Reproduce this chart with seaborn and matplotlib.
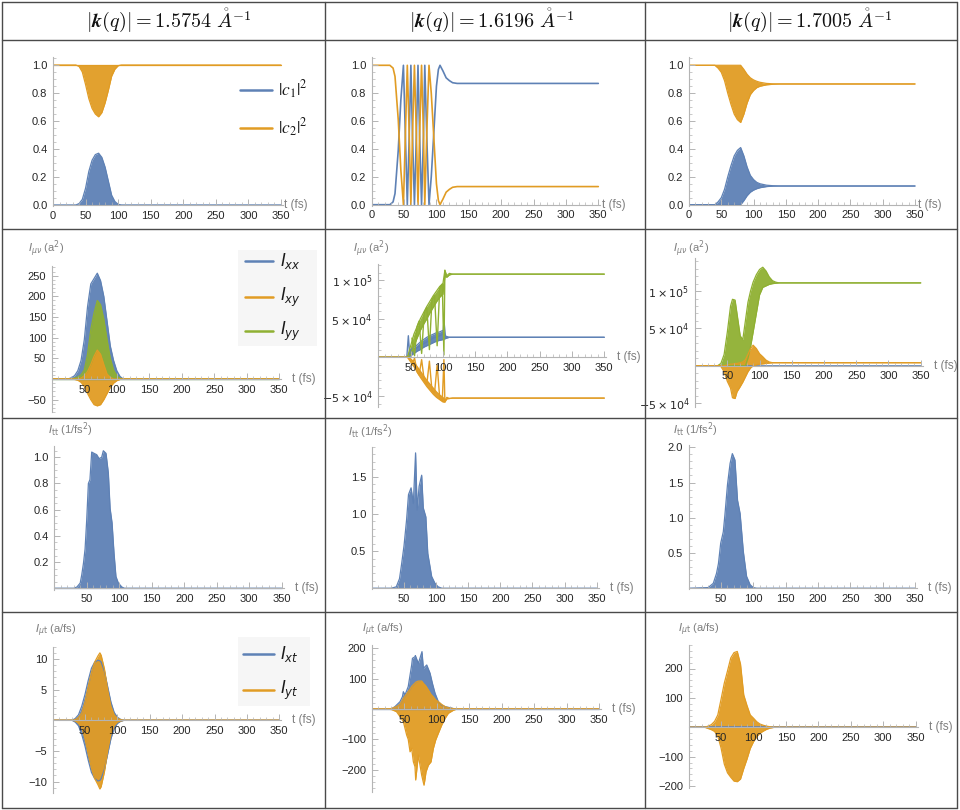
"""
Two-level populations and transition intensities for three |k(q)| values.
4 x 3 table of Mathematica-style panels, redrawn with seaborn/matplotlib.
"""

import numpy as np
import matplotlib
matplotlib.use("Agg")
import matplotlib.pyplot as plt
from matplotlib.lines import Line2D
from matplotlib.patches import Rectangle
from matplotlib.ticker import FixedLocator, FixedFormatter, MultipleLocator
import seaborn as sns

# ─────────────────────────────────────────────
# DATA (t in fs)
# ─────────────────────────────────────────────
K_VALUES = ["1.5754", "1.6196", "1.7005"]

# row 1 : |c1|^2 , |c2|^2
T00   = [0, 35, 40, 45, 50, 55, 60, 65, 70, 75, 80, 85, 90, 95, 100, 105, 350]
C1_00 = [0, 0, 0.01, 0.04, 0.12, 0.24, 0.32, 0.36, 0.37, 0.34, 0.27, 0.17, 0.07, 0.025, 0.005, 0, 0]
C2_00 = [1, 1, 0.99, 0.95, 0.86, 0.76, 0.69, 0.65, 0.63, 0.66, 0.73, 0.82, 0.92, 0.97, 0.995, 1, 1]

T01   = [0, 28, 33, 36, 41, 45, 49, 52, 55, 58, 60.5, 63, 66, 69, 71.5, 74, 77, 80, 82, 85, 88.5,
         92, 95, 100, 103, 105.5, 110, 115, 120, 125, 132, 350]
C1_01 = [0, 0, 0.02, 0.08, 0.39, 0.75, 1.0, 0.5, 0.0, 0.5, 1.0, 0.5, 0.0, 0.5, 1.0, 0.5, 0.0, 0.5, 1.0, 0.5, 0.0,
         0.2, 0.44, 0.85, 0.97, 1.0, 0.96, 0.91, 0.89, 0.875, 0.87, 0.87]
C2_01 = [1, 1, 0.98, 0.92, 0.61, 0.25, 0.0, 0.5, 1.0, 0.5, 0.0, 0.5, 1.0, 0.5, 0.0, 0.5, 1.0, 0.5, 0.0, 0.5, 1.0,
         0.8, 0.56, 0.15, 0.03, 0.0, 0.04, 0.09, 0.11, 0.125, 0.13, 0.13]

T02      = [0, 40, 45, 50, 55, 60, 65, 70, 75, 80, 85, 90, 95, 100, 105, 110, 120, 130, 140, 350]
C1_02_HI = [0, 0, 0.02, 0.05, 0.11, 0.2, 0.28, 0.35, 0.39, 0.41, 0.35, 0.27, 0.21, 0.18, 0.16, 0.15, 0.14, 0.136, 0.134, 0.134]
C1_02_LO = [0, 0, 0, 0, 0, 0, 0, 0, 0, 0, 0.03, 0.065, 0.09, 0.105, 0.115, 0.122, 0.13, 0.133, 0.134, 0.134]
C2_02_HI = [1, 1, 1, 1, 1, 1, 1, 1, 1, 1, 0.97, 0.935, 0.91, 0.895, 0.885, 0.878, 0.87, 0.867, 0.866, 0.866]
C2_02_LO = [1, 1, 0.98, 0.95, 0.89, 0.8, 0.72, 0.65, 0.61, 0.59, 0.65, 0.73, 0.79, 0.82, 0.84, 0.85, 0.86, 0.864, 0.866, 0.866]

# row 2 : I_xx, I_xy, I_yy  (a^2)
T10      = [0, 25, 30, 35, 40, 45, 50, 55, 60, 65, 70, 75, 80, 85, 90, 95, 100, 105, 110, 350]
XX_10    = [0, 0, 3, 8, 20, 45, 95, 175, 230, 243, 256, 238, 200, 140, 80, 45, 20, 6, 0, 0]
YY_10    = [0, 0, 0, 2, 5, 10, 22, 60, 120, 160, 190, 180, 145, 95, 50, 22, 8, 2, 0, 0]
XY_10_HI = [0, 0, 0, 0, 0, 2, 8, 18, 35, 55, 70, 60, 35, 12, 4, 0, 0, 0, 0, 0]
XY_10_LO = [0, 0, 0, -1, -3, -8, -18, -35, -50, -62, -65, -62, -50, -35, -20, -10, -4, -1, 0, 0]

T11      = [0, 45, 50, 55, 60, 65, 70, 75, 80, 85, 90, 95, 100, 103, 106, 110, 115, 350]
XX_11_HI = [0, 0, 1.0e4, 1.3e4, 1.6e4, 2.0e4, 2.3e4, 2.6e4, 2.8e4, 3.0e4, 3.2e4, 3.3e4, 3.5e4, 2.8e4, 2.7e4, 2.6e4, 2.6e4, 2.6e4]
XX_11_LO = [0, 0, 0.2e4, 0.5e4, 0.8e4, 1.0e4, 1.3e4, 1.5e4, 1.7e4, 1.9e4, 2.1e4, 2.2e4, 2.3e4, 2.4e4, 2.5e4, 2.6e4, 2.6e4, 2.6e4]
YY_11_HI = [0, 0, 1.5e4, 3.0e4, 4.0e4, 5.0e4, 5.8e4, 6.6e4, 7.3e4, 8.0e4, 8.6e4, 9.2e4, 9.6e4, 1.13e5, 1.06e5, 1.09e5, 1.08e5, 1.08e5]
YY_11_LO = [0, 0, 0.3e4, 1.5e4, 2.5e4, 3.5e4, 4.3e4, 5.0e4, 5.8e4, 6.5e4, 7.2e4, 7.8e4, 8.2e4, 1.05e5, 1.04e5, 1.07e5, 1.08e5, 1.08e5]
XY_11_HI = [0, 0, -0.2e4, -0.6e4, -1.2e4, -1.8e4, -2.4e4, -3.0e4, -3.5e4, -4.0e4, -4.5e4, -4.9e4, -5.2e4, -5.6e4, -5.2e4, -5.35e4, -5.3e4, -5.3e4]
XY_11_LO = [0, 0, -0.6e4, -1.2e4, -1.9e4, -2.6e4, -3.2e4, -3.8e4, -4.3e4, -4.8e4, -5.2e4, -5.5e4, -5.8e4, -5.8e4, -5.4e4, -5.35e4, -5.3e4, -5.3e4]
# spikes / dips that stick out of the dense bands
TS_11    = [44, 46.4, 48.5, 55, 65, 75, 85, 95, 100, 101.6, 104]
XX_11_SP = [0, 2.8e4, 0.3e4, 1.0e4, 1.5e4, 2.0e4, 2.5e4, 2.8e4, 3.0e4, 4.7e4, 2.6e4]
TD_11    = [52, 56, 60, 63, 67, 71, 75, 79, 83, 87, 91, 95, 99, 101.5, 103]
YY_11_DP = [2.5e4, 0.2e4, 4.0e4, 4.7e4, 0.5e4, 5.8e4, 6.5e4, 1.0e4, 7.5e4, 8.0e4, 1.5e4, 9.0e4, 9.5e4, 0.3e4, 1.13e5]
XY_11_DP = [-1.0e4, -0.1e4, -1.9e4, -2.3e4, -0.3e4, -3.0e4, -3.5e4, -0.5e4, -4.3e4, -4.6e4, -1.0e4, -5.3e4, -5.6e4, -0.3e4, -5.8e4]

T12      = [0, 35, 40, 45, 50, 55, 58, 62, 65, 70, 74, 78, 82, 86, 90, 95, 100, 105, 110, 115, 120, 125, 130, 350]
YY_12_HI = [0, 0, 0.3e4, 1.5e4, 4.5e4, 8.0e4, 8.9e4, 8.8e4, 7.0e4, 4.0e4, 3.5e4, 6.0e4, 8.5e4, 1.0e5,
            1.12e5, 1.22e5, 1.29e5, 1.32e5, 1.27e5, 1.19e5, 1.14e5, 1.12e5, 1.11e5, 1.11e5]
YY_12_LO = [0, 0, 0, 0, 0, 0, 0, 0, 0, 0, 0, 0, 1.0e4, 2.5e4,
            4.5e4, 7.0e4, 9.5e4, 1.05e5, 1.07e5, 1.09e5, 1.10e5, 1.105e5, 1.11e5, 1.11e5]
XY_12_HI = [0, 0, 0, 0, 0.1e4, 0.2e4, 0.2e4, 0.3e4, 0.3e4, 0.4e4, 0.5e4, 0.8e4, 1.5e4, 2.3e4,
            2.75e4, 2.3e4, 1.6e4, 1.2e4, 0.75e4, 0.5e4, 0.4e4, 0.4e4, 0.4e4, 0.4e4]
XY_12_LO = [0, 0, -0.1e4, -0.8e4, -2.1e4, -3.0e4, -4.3e4, -4.4e4, -3.5e4, -2.8e4, -2.2e4, -1.5e4, -0.8e4, -0.3e4,
            0, 0.1e4, 0.2e4, 0.25e4, 0.3e4, 0.35e4, 0.4e4, 0.4e4, 0.4e4, 0.4e4]
T12_XX   = [0, 350]
XX_12    = [0, 0]

# row 3 : I_tt  (1/fs^2)
T20 = [0, 30, 35, 40, 42.3, 45, 47.5, 50, 52.6, 55, 57.7, 61.3, 65.4, 69, 73, 75.6, 79.7, 83.3, 86, 89, 92, 95, 98.7, 104, 108, 350]
I20 = [0, 0, 0.01, 0.04, 0.1, 0.19, 0.3, 0.52, 0.8, 0.83, 1.04, 1.03, 1.02, 0.99, 1.0, 1.05, 1.03, 0.88, 0.61, 0.5, 0.27, 0.09, 0.04, 0.01, 0, 0]
T21 = [0, 30, 38, 43, 46, 50, 54, 57, 61, 64.5, 68, 70.5, 73.5, 77.5, 80, 84, 87, 90.5, 93, 98, 103, 109, 350]
I21 = [0, 0, 0.02, 0.13, 0.31, 0.57, 0.92, 1.26, 1.35, 1.14, 1.82, 1.05, 1.37, 1.52, 1.08, 0.96, 0.47, 0.29, 0.16, 0.07, 0.02, 0, 0]
T22 = [0, 30, 38, 43, 46, 49.5, 53.5, 56, 60, 64, 67.5, 71.5, 75.5, 79.5, 84.5, 89.5, 95, 100, 105, 350]
I22 = [0, 0.01, 0.07, 0.21, 0.35, 0.64, 0.80, 1.04, 1.47, 1.77, 1.91, 1.82, 1.25, 1.06, 0.52, 0.17, 0.05, 0.01, 0, 0]

# row 4 : I_xt, I_yt  (a/fs)
T30      = [0, 30, 35, 40, 45, 50, 55, 60, 65, 70, 73, 75, 80, 85, 90, 95, 100, 105, 110, 350]
XT_30_HI = [0, 0, 0.3, 0.9, 2.3, 4.2, 6.5, 8.5, 9.5, 9.8, 9.7, 9.5, 8.0, 5.5, 3.0, 1.3, 0.5, 0.15, 0, 0]
XT_30_LO = [0, 0, -0.3, -0.9, -2.3, -4.2, -6.5, -8.5, -9.5, -9.9, -9.8, -9.5, -8.0, -5.5, -3.0, -1.3, -0.5, -0.15, 0, 0]
YT_30_HI = [0, 0, 0.1, 0.5, 1.2, 3.0, 5.5, 7.8, 9.5, 10.5, 11.0, 10.6, 8.4, 5.0, 2.3, 0.9, 0.3, 0.1, 0, 0]
YT_30_LO = [0, 0, -0.1, -0.5, -1.2, -3.0, -5.5, -7.8, -9.5, -10.5, -11.2, -10.8, -8.4, -5.0, -2.3, -0.9, -0.3, -0.1, 0, 0]

TX_31    = [0, 30, 35.6, 43.3, 47, 48.5, 51, 56, 61.3, 62.5, 66.4, 67, 71.6, 77.2, 79.3, 84.5, 89.6, 93.2,
            97.3, 102.4, 107.6, 112.7, 123, 128, 350]
XT_31    = [0, 0, 8, 24, 40, 57, 46, 74, 145, 167, 172, 176, 150, 189, 134, 145, 118, 85,
            52, 24, 13, 8, 3, 0, 0]
TY_31    = [0, 25, 30.6, 38, 43.3, 48.5, 53.6, 56, 58.8, 61.3, 63.9, 66.4, 67.5, 71.6, 76.7, 80.3, 81.9, 83.4,
            87, 91.1, 94.7, 98.3, 102.4, 107.6, 112.7, 117.8, 125.6, 131, 350]
YT_31_HI = [0, 0, 2, 8, 15, 35, 50, 57, 65, 74, 80, 85, 88, 92, 92, 82, 79, 75,
            63, 48, 40, 30, 24, 15, 8, 4, 1, 0, 0]
YT_31_LO = [0, 0, -2, -9, -25, -42, -86, -100, -141, -130, -174, -190, -234, -152, -218, -251, -230, -207,
            -185, -174, -130, -102, -80, -53, -31, -14, -4, 0, 0]

T32      = [0, 25, 30, 35, 40, 45, 50, 55, 60, 65, 70, 75, 80, 85, 90, 95, 100, 105, 110, 115, 120, 125, 132, 350]
YT_32_HI = [0, 0, 4, 9, 20, 42, 95, 150, 192, 236, 254, 258, 215, 110, 74, 42, 31, 19, 11, 7, 4, 2, 0, 0]
YT_32_LO = [0, 0, -4, -8, -14, -30, -70, -125, -155, -170, -183, -185, -176, -140, -108, -72, -49, -32, -20, -13, -7, -3, 0, 0]
T32_XT   = [0, 350]
XT_32    = [0, 0]

# ticks
X_TICKS   = [0, 50, 100, 150, 200, 250, 300, 350]
POP_TICKS = [0, 0.2, 0.4, 0.6, 0.8, 1.0]
POP_LBLS  = ["0.0", "0.2", "0.4", "0.6", "0.8", "1.0"]

# ─────────────────────────────────────────────
# STYLE
# ─────────────────────────────────────────────
W, H = 960, 810
BLUE, ORANGE, GREEN = "#5E81B5", "#E19C24", "#8FB032"
AXIS_GRAY  = "#b4b4b4"
LABEL_GRAY = "#7f7f7f"
TICK_COLOR = "#262626"
GRID_COLOR = "#4a4a4a"

sns.set_theme(style="white")
plt.rcParams["font.family"] = ["Liberation Sans", "DejaVu Sans"]
plt.rcParams["mathtext.fontset"] = "dejavusans"

# panel placement: pixel of t=0, pixel of t=350, pixel of y=0, px per unit, ylim
LAYOUT = {
    (0, 0): (53.0, 281.0, 205.0, 140.0, (-0.01, 1.06)),
    (0, 1): (371.7, 598.3, 204.7, 139.4, (-0.01, 1.06)),
    (0, 2): (689.0, 915.0, 204.7, 139.4, (-0.01, 1.06)),
    (1, 0): (51.8, 279.3, 379.0, 0.4133, (-80, 274)),
    (1, 1): (378.4, 604.3, 357.3, 38.5 / 5e4, (-6.5e4, 1.21e5)),
    (1, 2): (695.1, 920.7, 365.7, 37.3 / 5e4, (-5.5e4, 1.44e5)),
    (2, 0): (54.2, 281.7, 588.3, 131.0, (-0.01, 1.09)),
    (2, 1): (371.9, 596.7, 588.3, 74.4, (-0.01, 1.90)),
    (2, 2): (688.7, 915.0, 588.3, 70.5, (-0.01, 2.03)),
    (3, 0): (52.6, 279.3, 720.3, 6.13, (-11.9, 12)),
    (3, 1): (371.9, 599.0, 709.0, 0.3035, (-272, 211)),
    (3, 2): (688.6, 915.7, 727.3, 0.294, (-207, 281)),
}
XMAX = 353


def place_axes(fig, key):
    x0, x350, y0, ppu, ylim = LAYOUT[key]
    sx = (x350 - x0) / 350
    bot_px = y0 - ylim[0] * ppu
    top_px = y0 - ylim[1] * ppu
    ax = fig.add_axes([x0 / W, 1 - bot_px / H, XMAX * sx / W, (bot_px - top_px) / H])
    ax.set_xlim(0, XMAX)
    ax.set_ylim(*ylim)
    return ax


def style_axes(ax, xlabels, yticks, ylabels, yminor, label_gap):
    for s in ("top", "right"):
        ax.spines[s].set_visible(False)
    for s in ("left", "bottom"):
        ax.spines[s].set_position(("data", 0))
        ax.spines[s].set_color(AXIS_GRAY)
        ax.spines[s].set_linewidth(0.8)
    ax.set_facecolor("none")
    ax.grid(False)
    ax.set_axisbelow(False)
    xt = X_TICKS if len(xlabels) == len(X_TICKS) else X_TICKS[1:]
    ax.xaxis.set_major_locator(FixedLocator(xt))
    ax.xaxis.set_major_formatter(FixedFormatter(xlabels))
    ax.xaxis.set_minor_locator(MultipleLocator(10))
    ax.yaxis.set_major_locator(FixedLocator(yticks))
    ax.yaxis.set_major_formatter(FixedFormatter(ylabels))
    ax.yaxis.set_minor_locator(MultipleLocator(yminor))
    ax.tick_params(which="both", direction="in", color=AXIS_GRAY, bottom=True, left=True,
                   labelsize=8, labelcolor=TICK_COLOR, pad=4)
    ax.tick_params(which="major", length=4, width=0.7)
    ax.tick_params(which="minor", length=2, width=0.5)
    ax.annotate("t (fs)", xy=(1, 0), xycoords=("axes fraction", "data"),
                xytext=(label_gap, 0), textcoords="offset points",
                ha="left", va="center", fontsize=8.5, color=LABEL_GRAY)


def line(ax, t, y, color, lw=1.2):
    sns.lineplot(x=t, y=y, ax=ax, color=color, lw=lw,
                 estimator=None, sort=False, legend=False)


def band(ax, t, lo, hi, color):
    if np.isscalar(lo):
        lo = np.full(len(t), float(lo))
    if np.isscalar(hi):
        hi = np.full(len(t), float(hi))
    ax.fill_between(t, lo, hi, color=color, lw=0, alpha=0.95)
    line(ax, t, hi, color, lw=0.9)
    line(ax, t, lo, color, lw=0.9)


def legend_rows(fig, x_line, x_text, ys, colors, labels, fontsize, math_family, box=None):
    if box is not None:
        bx0, by0, bx1, by1 = box
        fig.add_artist(Rectangle((bx0 / W, 1 - by1 / H), (bx1 - bx0) / W, (by1 - by0) / H,
                                 transform=fig.transFigure, facecolor="#f6f6f6",
                                 edgecolor="none", zorder=3))
    for y, c, lab in zip(ys, colors, labels):
        fig.add_artist(Line2D([x_line[0] / W, x_line[1] / W], [1 - y / H] * 2,
                              color=c, lw=1.8, zorder=4))
        fig.text(x_text / W, 1 - y / H, lab, ha="left", va="center", fontsize=fontsize,
                 color="#1a1a1a", math_fontfamily=math_family, zorder=4)


def y_label(fig, x, y, text):
    fig.text(x / W, 1 - y / H, text, ha="left", va="center", fontsize=8, color=LABEL_GRAY)


# ─────────────────────────────────────────────
# FIGURE
# ─────────────────────────────────────────────
fig = plt.figure(figsize=(W / 100, H / 100), dpi=100)
fig.patch.set_facecolor("white")

ALL_X = [str(v) for v in X_TICKS]
NO0_X = ALL_X[1:]
MINUS = "\u2212"
SCI_T = [-5e4, 5e4, 1e5]
SCI_L = [r"$-5\times10^{4}$", r"$5\times10^{4}$", r"$1\times10^{5}$"]

# ── row 1 ──
ax = place_axes(fig, (0, 0))
band(ax, T00, 0, C1_00, BLUE)
band(ax, T00, C2_00, 1, ORANGE)
style_axes(ax, ALL_X, POP_TICKS, POP_LBLS, 0.05, 1)

ax = place_axes(fig, (0, 1))
line(ax, T01, C1_01, BLUE)
line(ax, T01, C2_01, ORANGE)
style_axes(ax, ALL_X, POP_TICKS, POP_LBLS, 0.05, 1)

ax = place_axes(fig, (0, 2))
band(ax, T02, C1_02_LO, C1_02_HI, BLUE)
band(ax, T02, C2_02_LO, C2_02_HI, ORANGE)
style_axes(ax, ALL_X, POP_TICKS, POP_LBLS, 0.05, 1)

# ── row 2 ──
ax = place_axes(fig, (1, 0))
band(ax, T10, 0, XX_10, BLUE)
band(ax, T10, 0, YY_10, GREEN)
band(ax, T10, XY_10_LO, XY_10_HI, ORANGE)
style_axes(ax, NO0_X, [-50, 50, 100, 150, 200, 250],
           [MINUS + "50", "50", "100", "150", "200", "250"], 10, 8)

ax = place_axes(fig, (1, 1))
band(ax, T11, XX_11_LO, XX_11_HI, BLUE)
line(ax, TS_11, XX_11_SP, BLUE, lw=1.0)
band(ax, T11, YY_11_LO, YY_11_HI, GREEN)
line(ax, TD_11, YY_11_DP, GREEN, lw=1.0)
band(ax, T11, XY_11_LO, XY_11_HI, ORANGE)
line(ax, TD_11, XY_11_DP, ORANGE, lw=1.0)
style_axes(ax, NO0_X, SCI_T, SCI_L, 1e4, 8)

ax = place_axes(fig, (1, 2))
line(ax, T12_XX, XX_12, BLUE)
band(ax, T12, YY_12_LO, YY_12_HI, GREEN)
band(ax, T12, XY_12_LO, XY_12_HI, ORANGE)
style_axes(ax, NO0_X, SCI_T, SCI_L, 1e4, 8)

# ── row 3 ──
ax = place_axes(fig, (2, 0))
band(ax, T20, 0, I20, BLUE)
style_axes(ax, NO0_X, [0.2, 0.4, 0.6, 0.8, 1.0], ["0.2", "0.4", "0.6", "0.8", "1.0"], 0.05, 8)

ax = place_axes(fig, (2, 1))
band(ax, T21, 0, I21, BLUE)
style_axes(ax, NO0_X, [0.5, 1.0, 1.5], ["0.5", "1.0", "1.5"], 0.1, 8)

ax = place_axes(fig, (2, 2))
band(ax, T22, 0, I22, BLUE)
style_axes(ax, NO0_X, [0.5, 1.0, 1.5, 2.0], ["0.5", "1.0", "1.5", "2.0"], 0.1, 8)

# ── row 4 ──
ax = place_axes(fig, (3, 0))
band(ax, T30, XT_30_LO, XT_30_HI, BLUE)
band(ax, T30, YT_30_LO, YT_30_HI, ORANGE)
style_axes(ax, NO0_X, [-10, -5, 5, 10], [MINUS + "10", MINUS + "5", "5", "10"], 1, 8)

HUNDREDS = [MINUS + "200", MINUS + "100", "100", "200"]
ax = place_axes(fig, (3, 1))
band(ax, TX_31, 0, XT_31, BLUE)
band(ax, TY_31, YT_31_LO, YT_31_HI, ORANGE)
style_axes(ax, NO0_X, [-200, -100, 100, 200], HUNDREDS, 20, 8)

ax = place_axes(fig, (3, 2))
line(ax, T32_XT, XT_32, BLUE)
band(ax, T32, YT_32_LO, YT_32_HI, ORANGE)
style_axes(ax, NO0_X, [-200, -100, 100, 200], HUNDREDS, 20, 8)

# ── axis captions ──
for x, y in [(28, 249), (353, 248), (673, 248)]:
    y_label(fig, x, y, r"$I_{\mu\nu}$ (a$^{2}$)")
for x, y in [(48, 430), (348, 432), (673, 430)]:
    y_label(fig, x, y, r"$I_{\mathrm{tt}}$ (1/fs$^{2}$)")
for x, y in [(35, 631), (362, 630), (678, 630)]:
    y_label(fig, x, y, r"$I_{\mu\mathrm{t}}$ (a/fs)")

# ── legends ──
legend_rows(fig, (240, 272), 278, [90, 128], [BLUE, ORANGE],
            [r"$|c_1|^2$", r"$|c_2|^2$"], 12.5, "stix")
legend_rows(fig, (245, 273), 280, [261, 297, 331], [BLUE, ORANGE, GREEN],
            [r"$I_{xx}$", r"$I_{xy}$", r"$I_{yy}$"], 12, "dejavusans",
            box=(238, 250, 317, 346))
legend_rows(fig, (243, 274), 280, [654, 690], [BLUE, ORANGE],
            [r"$I_{xt}$", r"$I_{yt}$"], 12, "dejavusans",
            box=(238, 637, 310, 706))

# ── header row ──
for cx, k in zip([169, 492, 810], K_VALUES):
    fig.text(cx / W, 1 - 21 / H, r"$|\mathbfit{k}(q)| = " + k + r"\ \mathring{A}^{-1}$",
             ha="center", va="center", fontsize=14.5, color="#111111", math_fontfamily="cm")

# ── table rules ──
for y in [2, 40, 229, 418, 612, 808]:
    fig.add_artist(Line2D([2 / W, 957 / W], [1 - y / H] * 2, color=GRID_COLOR, lw=1.0))
for x in [2, 325, 645, 957]:
    fig.add_artist(Line2D([x / W] * 2, [1 - 2 / H, 1 - 808 / H], color=GRID_COLOR, lw=1.0))

fig.savefig("out.png", dpi=100)
plt.close(fig)
